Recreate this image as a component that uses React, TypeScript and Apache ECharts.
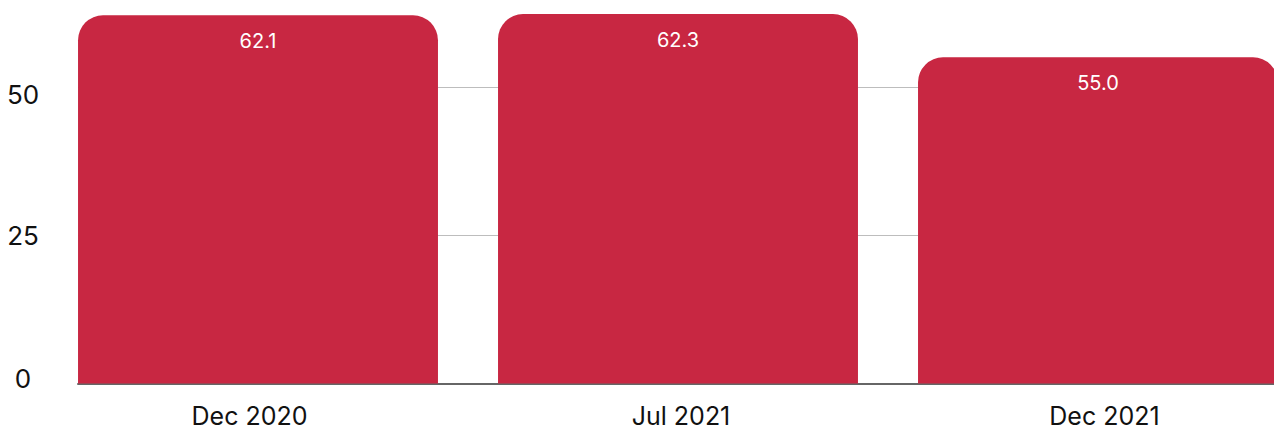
import React, { useEffect, useRef } from "react";
import * as echarts from "echarts";

const categories = ["Dec 2020", "Jul 2021", "Dec 2021"];
const values = [62.1, 62.3, 55.0];
const yTicks = [0, 25, 50];
const yMax = 64;

export default function App() {
  const ref = useRef<HTMLDivElement>(null);
  useEffect(() => {
    if (!ref.current) return;
    const chart = echarts.init(ref.current, undefined, { renderer: "svg" });
    const xRich = { fontFamily: "Inter", fontSize: 25, color: "#111111" };
    chart.setOption({
      animation: false,
      grid: [
        { left: 48, top: 4, right: 0, bottom: 46.5, containLabel: false },
        { left: 78, top: 4, right: 0, bottom: 46.5, containLabel: false },
      ],
      xAxis: [
        {
          type: "category",
          gridIndex: 0,
          data: categories,
          axisTick: { show: false },
          axisLine: { show: false },
          axisLabel: {
            margin: 20,
            fontFamily: "Inter",
            fontSize: 25,
            color: "#111111",
            formatter: (v: string, i: number) => ["{a|", "{b|", "{c|"][i] + v + "}",
            rich: {
              a: { ...xRich, padding: [0, 17, 0, 0] },
              b: { ...xRich, padding: [0, 0, 0, 6] },
              c: { ...xRich, padding: [0, 0, 0, 13] },
            },
          },
        },
        {
          type: "category",
          gridIndex: 1,
          data: categories,
          axisTick: { show: false },
          axisLabel: { show: false },
          axisLine: { show: true, lineStyle: { color: "#666666", width: 2 } },
        },
      ],
      yAxis: [
        {
          type: "value",
          gridIndex: 0,
          min: 0,
          max: yMax,
          interval: 25,
          axisLine: { show: false },
          axisTick: { show: false },
          splitLine: { show: false },
          axisLabel: {
            showMaxLabel: false,
            margin: 25,
            align: "center",
            fontFamily: "Inter",
            fontSize: 26,
            color: "#111111",
            formatter: (v: number) => {
              if (!yTicks.includes(v)) return "";
              if (v === 50) return "{hi|" + v + "}";
              if (v === 0) return "{lo|" + v + "}";
              return "{md|" + v + "}";
            },
            rich: {
              hi: { fontFamily: "Inter", fontSize: 26, color: "#111111", padding: [14, 0, 0, 0] },
              lo: { fontFamily: "Inter", fontSize: 26, color: "#111111", padding: [0, 0, 10, 0] },
              md: { fontFamily: "Inter", fontSize: 26, color: "#111111" },
            },
          },
        },
        {
          type: "value",
          gridIndex: 1,
          min: 0,
          max: yMax,
          interval: 25,
          axisLine: { show: false },
          axisTick: { show: false },
          axisLabel: { show: false },
          splitLine: {
            show: true,
            showMinLine: false,
            showMaxLine: false,
            lineStyle: { color: "#bdbdbd", width: 1 },
          },
        },
      ],
      series: [
        {
          type: "bar",
          xAxisIndex: 0,
          yAxisIndex: 0,
          data: values,
          barCategoryGap: "14.3%",
          itemStyle: { color: "#c82742", borderRadius: [25, 25, 0, 0] },
          label: {
            show: true,
            position: "insideTop",
            distance: 16,
            fontFamily: "Inter",
            fontSize: 20,
            color: "#ffffff",
            formatter: (p: any) => Number(p.value).toFixed(1),
          },
        },
      ],
    });
    return () => chart.dispose();
  }, []);
  return (
    <div
      ref={ref}
      style={{ position: "fixed", left: 0, top: 0, width: 1308, height: 430, background: "#fff" }}
    />
  );
}
